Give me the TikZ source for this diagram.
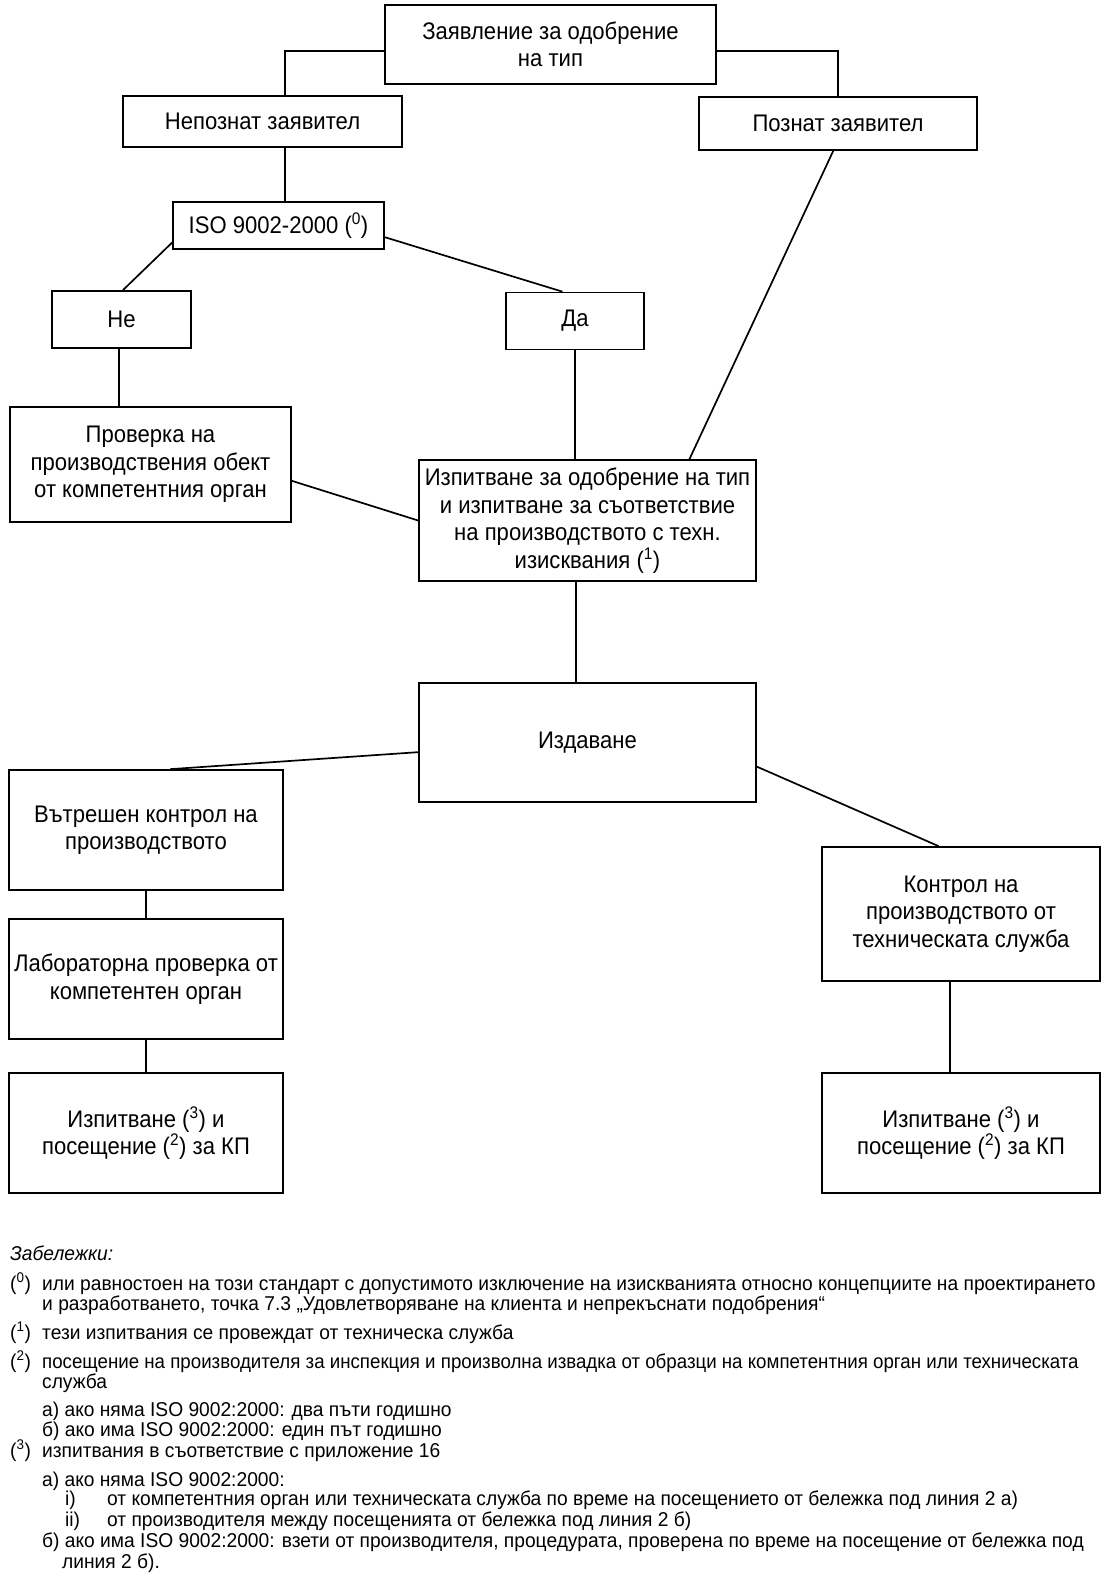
\documentclass[tikz,border=0pt]{standalone}
\usepackage{fontspec}
\setmainfont{Liberation Sans}[FakeStretch=0.92]
\usetikzlibrary{calc}
\tikzset{
  box/.style={draw, line width=1.7pt, align=center, inner sep=2pt,
    font=\fontsize{24}{27.5}\selectfont},
  conn/.style={line width=1.7pt},
  note/.style={anchor=base west, inner sep=0pt, font=\fontsize{20}{21}\selectfont\addfontfeature{FakeStretch=0.96}},
}
\begin{document}
\begin{tikzpicture}[x=1pt,y=-1pt]
\useasboundingbox (0,0) rectangle (1102,1575);
\fill[white] (0,0) rectangle (1102,1575);
% boxes
\node[box, minimum width=331, minimum height=79] (top) at (550.5,44.5) {Заявление за одобрение\\на тип};
\node[box, minimum width=279, minimum height=51] (nep) at (262.5,121.5) {Непознат заявител};
\node[box, minimum width=278, minimum height=53] (poz) at (838,123.5) {Познат заявител};
\node[box, minimum width=211, minimum height=47] (iso) at (278.5,225.5) {ISO 9002-2000 (\textsuperscript{0})};
\node[box, minimum width=139, minimum height=57] (ne) at (121.5,319.5) {Не};
\node[box, minimum width=138, minimum height=57] (da) at (575,321) {Да};
\node[box, minimum width=281, minimum height=115] (prov) at (150.5,464.5) {Проверка на\\производствения обект\\от компетентния орган};
\node[box, minimum width=337, minimum height=121] (izp) at (587.5,520.5) {Изпитване за одобрение на тип\\и изпитване за съответствие\\на производството с техн.\\изисквания (\textsuperscript{1})};
\node[box, minimum width=337, minimum height=119] (izd) at (587.5,742.5) {Издаване};
\node[box, minimum width=274, minimum height=120] (vat) at (146,830) {Вътрешен контрол на\\производството};
\node[box, minimum width=274, minimum height=120] (lab) at (146,979) {Лабораторна проверка от\\компетентен орган};
\node[box, minimum width=274, minimum height=120] (izpL) at (146,1133) {Изпитване (\textsuperscript{3}) и\\посещение (\textsuperscript{2}) за КП};
\node[box, minimum width=278, minimum height=134] (kon) at (961,914) {Контрол на\\производството от\\техническата служба};
\node[box, minimum width=278, minimum height=120] (izpR) at (961,1133) {Изпитване (\textsuperscript{3}) и\\посещение (\textsuperscript{2}) за КП};
% connectors
\coordinate (jl) at (285,51);
\coordinate (jr) at (838,51);
\draw[conn] (top.west |- jl) -- (jl) -- (jl |- nep.north);
\draw[conn] (top.east |- jr) -- (jr) -- (jr |- poz.north);
\draw[conn] (jl |- nep.south) -- (jl |- iso.north);
\draw[conn] ($(iso.south west)!0.15!(iso.north west)$) -- ($(ne.north west)!0.51!(ne.north east)$);
\draw[conn] ($(iso.south east)!0.26!(iso.north east)$) -- ($(da.north west)!0.41!(da.north east)$);
\coordinate (nes) at ($(ne.south west)!0.48!(ne.south east)$);
\draw[conn] (nes) -- (nes |- prov.north);
\draw[conn] (da.south) -- (da.south |- izp.north);
\draw[conn] ($(poz.south west)!0.483!(poz.south east)$) -- ($(izp.north west)!0.801!(izp.north east)$);
\draw[conn] ($(prov.north east)!0.64!(prov.south east)$) -- (izp.west);
\coordinate (izps) at ($(izp.south west)!0.466!(izp.south east)$);
\draw[conn] (izps) -- (izps |- izd.north);
\draw[conn] ($(izd.north west)!0.58!(izd.south west)$) -- ($(vat.north west)!0.588!(vat.north east)$);
\draw[conn] ($(izd.north east)!0.7!(izd.south east)$) -- ($(kon.north west)!0.42!(kon.north east)$);
\draw[conn] (vat.south) -- (lab.north);
\draw[conn] (lab.south) -- (izpL.north);
\coordinate (kons) at ($(kon.south west)!0.46!(kon.south east)$);
\draw[conn] (kons) -- (kons |- izpR.north);
% notes
\node[note, font=\fontsize{20}{21}\selectfont\addfontfeature{FakeStretch=0.96}\itshape] (zab) at (10,1260) {Забележки:};
\node[note] (m0) at (10,1290) {(\textsuperscript{0})};
\node[note] (n0a) at (42,1290) {или равностоен на този стандарт с допустимото изключение на изискванията относно концепциите на проектирането};
\node[note] (n0b) at (42,1310) {и разработването, точка 7.3 „Удовлетворяване на клиента и непрекъснати подобрения“};
\node[note] (m1) at (10,1339) {(\textsuperscript{1})};
\node[note] (n1) at (42,1339) {тези изпитвания се провеждат от техническа служба};
\node[note] (m2) at (10,1368) {(\textsuperscript{2})};
\node[note, font=\fontsize{20}{21}\selectfont\addfontfeature{FakeStretch=0.935}] (n2a) at (42,1368) {посещение на производителя за инспекция и произволна извадка от образци на компетентния орган или техническата};
\node[note] (n2b) at (42,1388) {служба};
\node[note] (n2c) at (42,1416) {а) ако няма ISO 9002:2000: два пъти годишно};
\node[note] (n2d) at (42,1436) {б) ако има ISO 9002:2000: един път годишно};
\node[note] (m3) at (10,1457) {(\textsuperscript{3})};
\node[note] (n3) at (42,1457) {изпитвания в съответствие с приложение 16};
\node[note] (n3a) at (42,1486) {а) ако няма ISO 9002:2000:};
\node[note] (n3i) at (65,1505) {i)};
\node[note] (n3it) at (107,1505) {от компетентния орган или техническата служба по време на посещението от бележка под линия 2 а)};
\node[note] (n3ii) at (65,1526) {ii)};
\node[note] (n3iit) at (107,1526) {от производителя между посещенията от бележка под линия 2 б)};
\node[note] (n3b) at (42,1547) {б) ако има ISO 9002:2000: взети от производителя, процедурата, проверена по време на посещение от бележка под};
\node[note] (n3c) at (62,1568) {линия 2 б).};
\end{tikzpicture}
\end{document}
